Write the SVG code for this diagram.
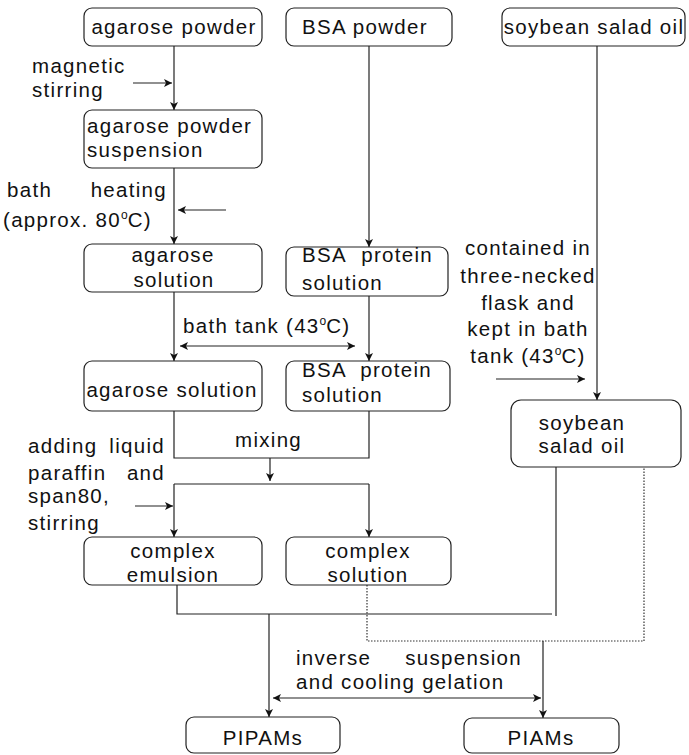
<svg xmlns="http://www.w3.org/2000/svg" width="689" height="755" viewBox="0 0 689 755">
<style>
text{font-family:"Liberation Sans",Arial,sans-serif;font-size:20.5px;letter-spacing:1.3px;fill:#111}
.box{fill:#fff;stroke:#222;stroke-width:1.2}
.ln{fill:none;stroke:#222;stroke-width:1.2}
.dot{fill:none;stroke:#333;stroke-width:1.2;stroke-dasharray:1.5 1.5}
.c{text-anchor:middle}
.sup{font-size:12px;letter-spacing:0}
</style>
<defs>
<marker id="ah" viewBox="0 0 10 10" refX="10" refY="5" markerWidth="9" markerHeight="8" markerUnits="userSpaceOnUse" orient="auto-start-reverse">
<path d="M0,0 L10,5 L0,10 L2.5,5 z" fill="#111"/>
</marker>
</defs>
<g id="connectors">
<line class="ln" x1="174" y1="46" x2="174" y2="110" marker-end="url(#ah)"/>
<line class="ln" x1="133" y1="83" x2="172" y2="83" marker-end="url(#ah)"/>
<line class="ln" x1="174" y1="168" x2="174" y2="244" marker-end="url(#ah)"/>
<line class="ln" x1="226" y1="210" x2="178" y2="210" marker-end="url(#ah)"/>
<line class="ln" x1="369" y1="46" x2="369" y2="247" marker-end="url(#ah)"/>
<line class="ln" x1="174" y1="292" x2="174" y2="361" marker-end="url(#ah)"/>
<line class="ln" x1="180" y1="346" x2="355" y2="346" marker-start="url(#ah)" marker-end="url(#ah)"/>
<line class="ln" x1="369" y1="296" x2="369" y2="361" marker-end="url(#ah)"/>
<line class="ln" x1="597" y1="46" x2="597" y2="400" marker-end="url(#ah)"/>
<line class="ln" x1="496" y1="379" x2="585" y2="379" marker-end="url(#ah)"/>
<path class="ln" d="M174,411 V458 H369 V411"/>
<line class="ln" x1="270" y1="458" x2="270" y2="481" marker-end="url(#ah)"/>
<path class="ln" d="M174,484 H369"/>
<line class="ln" x1="174" y1="484" x2="174" y2="537" marker-end="url(#ah)"/>
<line class="ln" x1="369" y1="484" x2="369" y2="537" marker-end="url(#ah)"/>
<line class="ln" x1="135" y1="506" x2="173" y2="506" marker-end="url(#ah)"/>
<path class="ln" d="M177,585 V614 H552"/>
<line class="ln" x1="556" y1="467" x2="556" y2="616"/>
<line class="ln" x1="269" y1="614" x2="269" y2="717" marker-end="url(#ah)"/>
<path class="dot" d="M367,585 V641 H644 V467"/>
<line class="ln" x1="543" y1="641" x2="543" y2="718" marker-end="url(#ah)"/>
<line class="ln" x1="273" y1="698" x2="541" y2="698" marker-start="url(#ah)" marker-end="url(#ah)"/>
</g>
<g id="labels">
<text x="32" y="73">magnetic</text>
<text x="32" y="97">stirring</text>
<text y="197"><tspan x="7">bath</tspan><tspan x="167" text-anchor="end">heating</tspan></text>
<text x="3" y="227">(approx. 80<tspan class="sup" dy="-8">o</tspan><tspan dy="8">C)</tspan></text>
<text x="183" y="333">bath tank (43<tspan class="sup" dy="-8">o</tspan><tspan dy="8">C)</tspan></text>
<text class="c" y="255"><tspan x="528">contained in</tspan><tspan x="528" y="283">three-necked</tspan><tspan x="528" y="310">flask and</tspan><tspan x="528" y="336">kept in bath</tspan><tspan x="528" y="363">tank (43<tspan class="sup" dy="-8">o</tspan><tspan dy="8">C)</tspan></tspan></text>
<text x="235" y="447">mixing</text>
<text y="453"><tspan x="28">adding</tspan><tspan x="165" text-anchor="end">liquid</tspan></text>
<text y="480"><tspan x="28">paraffin</tspan><tspan x="165" text-anchor="end">and</tspan></text>
<text x="28" y="503">span80,</text>
<text x="28" y="530">stirring</text>
<text y="665"><tspan x="296">inverse</tspan><tspan x="522" text-anchor="end">suspension</tspan></text>
<text x="296" y="689">and cooling gelation</text>
</g>
<g id="n1"><rect class="box" x="84" y="8" width="178" height="38" rx="8"/><text class="c" x="174" y="34">agarose powder</text></g>
<g id="n2"><rect class="box" x="286" y="8" width="166" height="38" rx="8"/><text x="302" y="34">BSA powder</text></g>
<g id="n3"><rect class="box" x="502" y="8" width="183" height="38" rx="8"/><text class="c" x="594" y="34">soybean salad oil</text></g>
<g id="n4"><rect class="box" x="84" y="110" width="178" height="58" rx="8"/><text x="87" y="133">agarose powder</text><text x="87" y="157">suspension</text></g>
<g id="n5"><rect class="box" x="84" y="244" width="178" height="48" rx="8"/><text class="c" x="173" y="262">agarose</text><text class="c" x="174" y="287">solution</text></g>
<g id="n6"><rect class="box" x="286" y="247" width="162" height="49" rx="8"/><text y="262"><tspan x="302">BSA</tspan><tspan x="433" text-anchor="end">protein</tspan></text><text x="302" y="290">solution</text></g>
<g id="n7"><rect class="box" x="84" y="361" width="178" height="50" rx="8"/><text class="c" x="172" y="397">agarose solution</text></g>
<g id="n8"><rect class="box" x="286" y="361" width="164" height="50" rx="8"/><text y="377"><tspan x="302">BSA</tspan><tspan x="432" text-anchor="end">protein</tspan></text><text x="302" y="402">solution</text></g>
<g id="n9"><rect class="box" x="511" y="400" width="170" height="67" rx="10"/><text class="c" x="582" y="430">soybean</text><text class="c" x="582" y="453">salad oil</text></g>
<g id="n10"><rect class="box" x="84" y="537" width="178" height="48" rx="8"/><text class="c" x="173" y="558">complex</text><text class="c" x="173" y="582">emulsion</text></g>
<g id="n11"><rect class="box" x="286" y="537" width="165" height="48" rx="8"/><text class="c" x="368" y="558">complex</text><text class="c" x="368" y="582">solution</text></g>
<g id="n12"><rect class="box" x="186" y="717" width="154" height="36" rx="8"/><text class="c" x="263" y="745">PIPAMs</text></g>
<g id="n13"><rect class="box" x="464" y="718" width="155" height="35" rx="8"/><text class="c" x="541" y="745">PIAMs</text></g>
</svg>
